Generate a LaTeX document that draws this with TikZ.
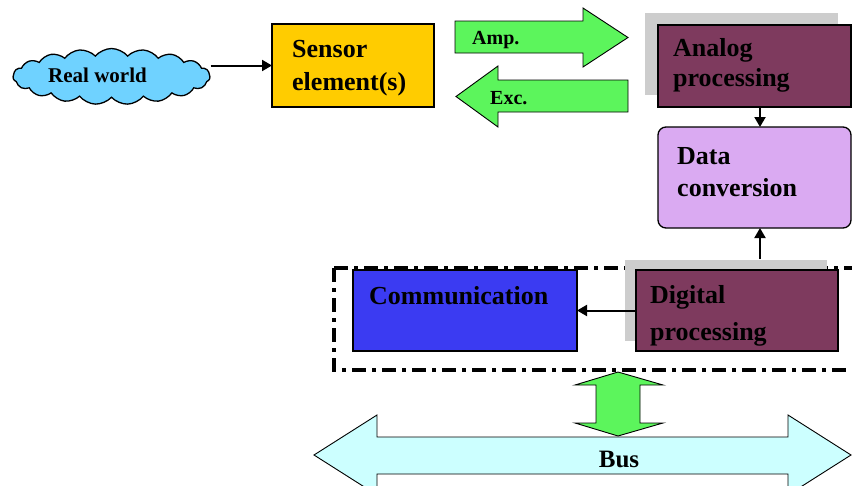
\documentclass[tikz,border=0pt]{standalone}
\usepackage{fontspec}
\setmainfont{Liberation Serif}
\usetikzlibrary{shapes.symbols,arrows.meta}
\definecolor{cloudc}{HTML}{6FD2FF}
\definecolor{sensorc}{HTML}{FFCC00}
\definecolor{greenc}{HTML}{5CF55C}
\definecolor{maroonc}{HTML}{7E3A5E}
\definecolor{violetc}{HTML}{DAAAF2}
\definecolor{bluec}{HTML}{3B3BF2}
\definecolor{busc}{HTML}{CCFFFF}
\definecolor{shadowc}{HTML}{CDCDCD}
\begin{document}
\begin{tikzpicture}[x=1pt,y=-1pt,
  box/.style={draw=black, line width=1.3pt, inner sep=0pt, outer sep=0pt},
  shadowbox/.style={fill=shadowc, draw=none, inner sep=0pt, outer sep=0pt},
  big/.style={font=\fontsize{26}{30}\selectfont\bfseries, inner sep=0pt, anchor=base west},
  small/.style={font=\fontsize{20}{24}\selectfont\bfseries, inner sep=0pt, anchor=base west},
  arr/.style={draw=black, line width=2pt, -{Triangle[length=10pt,width=11pt]}},
  blockarrow/.style={draw=black, line width=0.9pt, line join=miter}
]
\useasboundingbox (0,0) rectangle (852,485);

% dash-dot frame
\draw[line width=4pt, dash pattern=on 14pt off 6pt on 4pt off 6pt] (334,268) -- (334,370) -- (860,370);
\draw[line width=4pt, dash pattern=on 14pt off 6pt on 4pt off 6pt] (334,268) -- (860,268);

% cloud
\node[cloud, cloud puffs=19, cloud puff arc=100, aspect=3.5, draw=black, line width=1.3pt,
      fill=cloudc, minimum width=197, minimum height=56, inner sep=0pt] (cloud) at (111.5,76.5) {};
\node[font=\fontsize{21}{24}\selectfont\bfseries, inner sep=0pt, anchor=base west] (cloudT) at (48,82) {Real world};

% sensor
\node[box, fill=sensorc, minimum width=162, minimum height=83] (sensor) at (353,65.5) {};
\node[big] (sensorT1) at (292,57) {Sensor};
\node[big] (sensorT2) at (292,90) {element(s)};
\draw[arr] (sensor.west -| cloud.east) -- (sensor.west);

% Amp arrow
\path[blockarrow, fill=greenc] (455,21) -- (583,21) -- (583,8) -- (628,37.5) -- (583,67) -- (583,53) -- (455,53) -- cycle;
\node[small] (ampT) at (472,44) {Amp.};
% Exc arrow
\path[blockarrow, fill=greenc] (628,80) -- (498,80) -- (498,66) -- (456,96.5) -- (498,127) -- (498,112) -- (628,112) -- cycle;
\node[small] (excT) at (490,104) {Exc.};

% analog processing
\node[shadowbox, minimum width=193, minimum height=82] (analogS) at (741.5,54) {};
\node[box, fill=maroonc, minimum width=193, minimum height=82] (analog) at (754.5,66) {};
\node[big] (analogT1) at (673,56) {Analog};
\node[big] (analogT2) at (673,86) {processing};

% data conversion
\node[box, fill=violetc, rounded corners=8pt, minimum width=193, minimum height=101] (data) at (754.5,177.5) {};
\node[big] (dataT1) at (677,164) {Data};
\node[big] (dataT2) at (677,196) {conversion};
\draw[arr] ([xshift=5.5pt]analog.south) -- ([xshift=5.5pt]data.north);

% digital processing
\coordinate (dtop) at (760,259);
\draw[arr] (dtop) -- (dtop |- data.south);
\node[shadowbox, minimum width=202, minimum height=81] (digitalS) at (726,300.5) {};
\node[box, fill=maroonc, minimum width=202, minimum height=81] (digital) at (737,310.5) {};
\node[big] (digitalT1) at (650,303) {Digital};
\node[big] (digitalT2) at (650,340) {processing};

% communication
\node[box, fill=bluec, minimum width=224, minimum height=81] (comm) at (465,310.5) {};
\node[big] (commT) at (369,304) {Communication};
\draw[arr] (digital.west) -- (comm.east);

% vertical double arrow
\path[blockarrow, fill=greenc] (618,372) -- (663,385) -- (640,385) -- (640,423) -- (663,423) -- (618,436)
  -- (575,423) -- (596,423) -- (596,385) -- (575,385) -- cycle;

% bus
\path[blockarrow, fill=busc] (314,455) -- (377,415) -- (377,437) -- (788,437) -- (788,415) -- (851,455)
  -- (788,495) -- (788,474) -- (377,474) -- (377,495) -- cycle;
\node[font=\fontsize{25}{28}\selectfont\bfseries, inner sep=0pt, anchor=base] (busT) at (619,467) {Bus};
\end{tikzpicture}
\end{document}
